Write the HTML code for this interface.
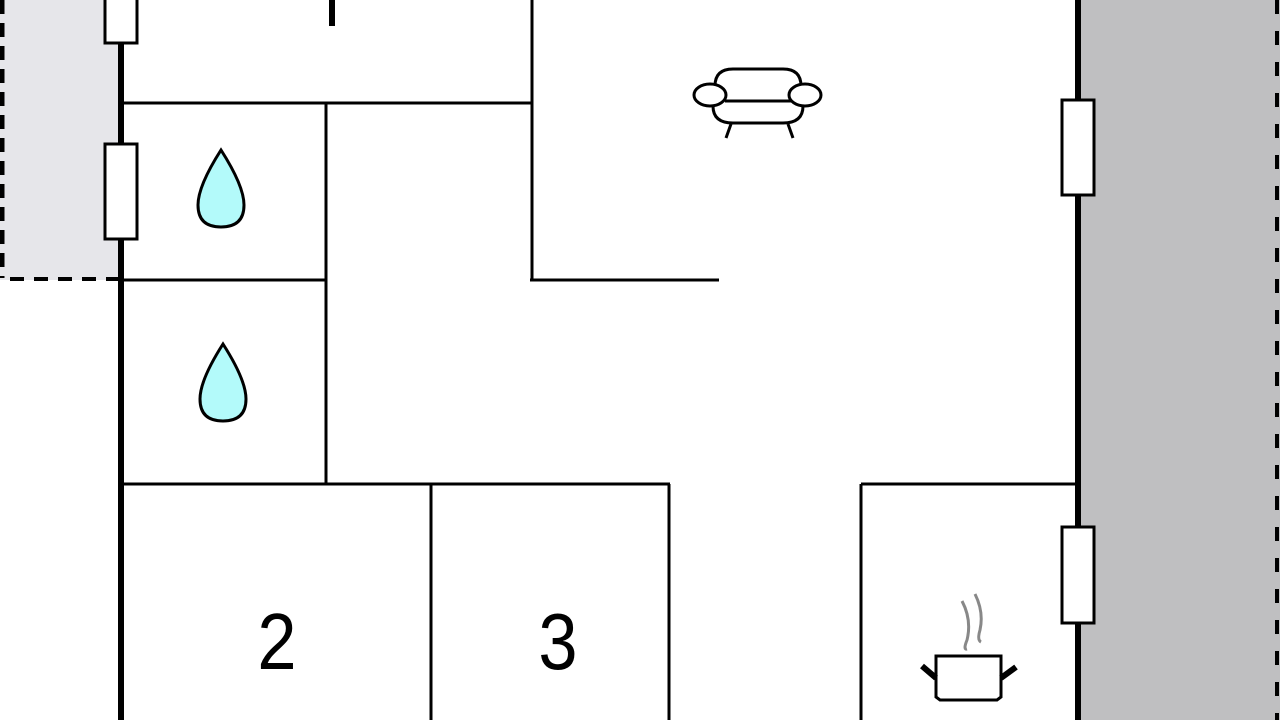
<!DOCTYPE html>
<html><head><style>body{margin:0;background:#fff}svg{display:block}</style></head><body>
<svg width="1280" height="720" viewBox="0 0 1280 720" xmlns="http://www.w3.org/2000/svg">
<rect x="0" y="0" width="120" height="280" fill="#e6e6ea"/>
<rect x="1080" y="0" width="200" height="720" fill="#bfbfc1"/>
<line x1="2" y1="0" x2="2" y2="278" stroke="#000" stroke-width="5" stroke-dasharray="14,9"/>
<line x1="10" y1="279" x2="118" y2="279" stroke="#000" stroke-width="4" stroke-dasharray="14,10"/>
<line x1="1277" y1="0" x2="1277" y2="720" stroke="#000" stroke-width="4" stroke-dasharray="14,17"/>
<g stroke="#000" fill="none">
<line x1="121" y1="0" x2="121" y2="720" stroke-width="6"/>
<line x1="1078" y1="0" x2="1078" y2="720" stroke-width="6"/>
<g stroke-width="3">
<line x1="120" y1="103" x2="532" y2="103"/>
<line x1="532" y1="0" x2="532" y2="280"/>
<line x1="530" y1="280" x2="719" y2="280"/>
<line x1="326" y1="102" x2="326" y2="484"/>
<line x1="120" y1="280" x2="326" y2="280"/>
<line x1="120" y1="484" x2="670" y2="484"/>
<line x1="431" y1="484" x2="431" y2="720"/>
<line x1="669" y1="484" x2="669" y2="720"/>
<line x1="861" y1="484" x2="1078" y2="484"/>
<line x1="861" y1="484" x2="861" y2="720"/>
</g>
<line x1="332" y1="0" x2="332" y2="26" stroke-width="6"/>
</g>
<g fill="#fff" stroke="#000" stroke-width="3">
<rect x="105" y="-3" width="32" height="46"/>
<rect x="105" y="144" width="32" height="95"/>
<rect x="1062" y="100" width="32" height="95"/>
<rect x="1062" y="527" width="32" height="96"/>
</g>
<g fill="#b3fafa" stroke="#000" stroke-width="3">
<path d="M221 150 Q198 186 198 205 Q198 227 221 227 Q244 227 244 205 Q244 186 221 150Z"/>
<path d="M223 344 Q200 380 200 399 Q200 421 223 421 Q246 421 246 399 Q246 380 223 344Z"/>
</g>
<g fill="none" stroke="#000" stroke-width="3">
<path d="M715 86 Q715 69 733 69 L783 69 Q801 69 801 86"/>
<line x1="725" y1="101" x2="791" y2="101"/>
<path d="M713 106 Q713 123 733 123 L783 123 Q803 123 803 106"/>
<ellipse cx="710" cy="95" rx="16" ry="11" fill="#fff"/>
<ellipse cx="805" cy="95" rx="16" ry="11" fill="#fff"/>
<line x1="731" y1="124" x2="726" y2="138"/>
<line x1="788" y1="124" x2="793" y2="138"/>
</g>
<g fill="none" stroke="#888" stroke-width="3">
<path d="M962 601 Q972 620 967 640 Q963 650 967 649"/>
<path d="M975 594 Q984 612 980 630 Q977 640 981 642"/>
</g>
<g stroke="#000" fill="#fff" stroke-width="3">
<path d="M936 656 L1001 656 L1001 697 L997 700 L940 700 L936 697Z"/>
<line x1="922" y1="666" x2="936" y2="678" stroke-width="6"/>
<line x1="1016" y1="667" x2="1001" y2="678" stroke-width="6"/>
</g>
<g font-family="Liberation Sans, sans-serif" font-size="80" text-anchor="middle">
<text x="0" y="669" transform="translate(277,0) scale(0.88,1)">2</text>
<text x="0" y="669" transform="translate(558,0) scale(0.88,1)">3</text>
</g>
</svg>
</body></html>
